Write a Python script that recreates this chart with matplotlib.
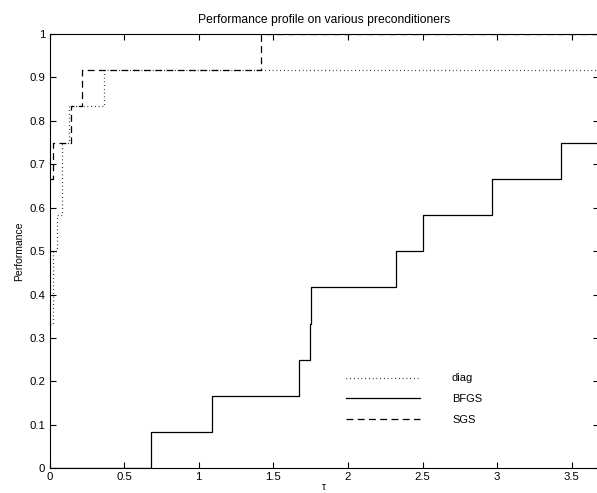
import matplotlib
matplotlib.use("Agg")
import matplotlib.pyplot as plt
import numpy as np

plt.rcParams['font.family'] = ['Liberation Sans', 'DejaVu Sans']

# Performance profile data (x = log2(tau), y = fraction of problems)
diag_x = [0.0, 0.021, 0.048, 0.082, 0.133, 0.365, 3.7]
diag_y = [4/12, 6/12, 7/12, 9/12, 10/12, 11/12, 11/12]

bfgs_x = [0.0, 0.68, 1.087, 1.674, 1.746, 1.755, 2.32, 2.501, 2.964, 3.428, 3.7]
bfgs_y = [0.0, 1/12, 2/12, 3/12, 4/12, 5/12, 6/12, 7/12, 8/12, 9/12, 9/12]

sgs_x = [0.0, 0.025, 0.142, 0.22, 1.415, 3.7]
sgs_y = [8/12, 9/12, 10/12, 11/12, 12/12, 12/12]

labels = ['diag', 'BFGS', 'SGS']
xticks = [0, 0.5, 1, 1.5, 2, 2.5, 3, 3.5]
yticks = [0, 0.1, 0.2, 0.3, 0.4, 0.5, 0.6, 0.7, 0.8, 0.9, 1]

W, H = 597, 493
fig = plt.figure(figsize=(W/100, H/100), dpi=100)
left, right, bottom, top = 49.5, 598.5, 468.3, 34.0
ax = fig.add_axes([left/W, 1 - bottom/H, (right-left)/W, (bottom-top)/H])

lw = 0.9
ax.step(diag_x, diag_y, where='post', color='black', lw=lw, ls=(0, (0.6, 2.4)), label=labels[0])
ax.step(bfgs_x, bfgs_y, where='post', color='black', lw=lw, ls='-', label=labels[1])
ax.step(sgs_x, sgs_y, where='post', color='black', lw=lw, ls=(0, (5.5, 3.5)), label=labels[2])

xmax = (right - left) / 149.2
ax.set_xlim(0, xmax)
ax.set_ylim(0, 1)
ax.set_xticks(xticks)
ax.set_xticklabels(['0', '0.5', '1', '1.5', '2', '2.5', '3', '3.5'])
ax.set_yticks(yticks)
ax.set_yticklabels(['0', '0.1', '0.2', '0.3', '0.4', '0.5', '0.6', '0.7', '0.8', '0.9', '1'])
ax.tick_params(direction='in', top=True, right=True, length=4, width=0.8, labelsize=8.2, pad=3)
for s in ax.spines.values():
    s.set_linewidth(0.8)

ax.set_title('Performance profile on various preconditioners', fontsize=8.75, pad=8)
ax.set_ylabel('Performance', fontsize=7.5, labelpad=4)
ax.set_xlabel('τ', fontsize=7, labelpad=0)

# legend placement (pixel -> axes fraction)
lx = (342 - left) / (right - left)
ly = (bottom - 369) / (bottom - top)
ax.legend(loc='upper left', bbox_to_anchor=(lx, ly), frameon=False, fontsize=8,
          handlelength=6.6, handletextpad=2.9, labelspacing=0.97, borderaxespad=0)

fig.savefig('out.png', dpi=100)
